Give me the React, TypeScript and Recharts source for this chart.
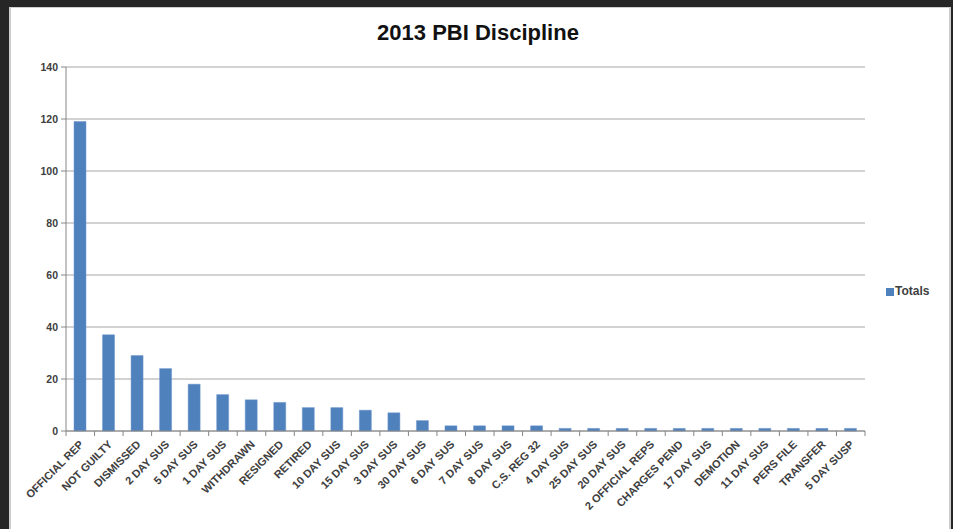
import React from "react";
import { BarChart, Bar, XAxis, YAxis, CartesianGrid, Legend } from "recharts";

// Outcome categories, in the order they are plotted
const categories: string[] = [
  "OFFICIAL REP",
  "NOT GUILTY",
  "DISMISSED",
  "2 DAY SUS",
  "5 DAY SUS",
  "1 DAY SUS",
  "WITHDRAWN",
  "RESIGNED",
  "RETIRED",
  "10 DAY SUS",
  "15 DAY SUS",
  "3 DAY SUS",
  "30 DAY SUS",
  "6 DAY SUS",
  "7 DAY SUS",
  "8 DAY SUS",
  "C.S. REG 32",
  "4 DAY SUS",
  "25 DAY SUS",
  "20 DAY SUS",
  "2 OFFICIAL REPS",
  "CHARGES PEND",
  "17 DAY SUS",
  "DEMOTION",
  "11 DAY SUS",
  "PERS FILE",
  "TRANSFER",
  "5 DAY SUSP",
];

// Number of cases for each category
const totals: number[] = [
  119, 37, 29, 24, 18, 14, 12, 11, 9, 9, 8, 7, 4, 2, 2, 2, 2, 1, 1, 1, 1, 1, 1, 1, 1, 1, 1, 1,
];

const yTicks: number[] = [0, 20, 40, 60, 80, 100, 120, 140];

const data = categories.map((name, i) => ({ name, Totals: totals[i] }));

const W = 953;
const H = 529;
const LEGEND_W = 60;
const MARGIN = { top: 67, right: 28, bottom: 8, left: 26 };
const Y_AXIS_W = 40;
const X_AXIS_H = 90;
const PLOT_LEFT = MARGIN.left + Y_AXIS_W;
const PLOT_RIGHT = W - MARGIN.right - LEGEND_W;
const PLOT_BOTTOM = H - MARGIN.bottom - X_AXIS_H;
const STEP = (PLOT_RIGHT - PLOT_LEFT) / categories.length;

const AXIS_COLOR = "#868686";
const LABEL_FONT = "'Liberation Sans', Arial, sans-serif";
const LABEL_COLOR = "#404040";

// Category label rotated 45° with tick marks between categories
const CategoryTick = (props: any) => {
  const { x, payload, index } = props;
  const half = STEP / 2;
  return (
    <g>
      <line x1={x - half} y1={PLOT_BOTTOM} x2={x - half} y2={PLOT_BOTTOM + 5} stroke={AXIS_COLOR} />
      {index === categories.length - 1 && (
        <line x1={x + half} y1={PLOT_BOTTOM} x2={x + half} y2={PLOT_BOTTOM + 5} stroke={AXIS_COLOR} />
      )}
      <text
        transform={`translate(${x + 2},${PLOT_BOTTOM + 12}) rotate(-45)`}
        textAnchor="end"
        fontSize={11}
        fontWeight="bold"
        fontFamily={LABEL_FONT}
        fill={LABEL_COLOR}
        dominantBaseline="middle"
      >
        {payload.value}
      </text>
    </g>
  );
};

export default function App() {
  return (
    <div
      style={{
        position: "fixed",
        left: 0,
        top: 0,
        width: W,
        height: H,
        background: "#262626",
        overflow: "hidden",
      }}
    >
      <div
        style={{
          position: "absolute",
          left: 9,
          top: 7,
          width: 938,
          height: 530,
          background: "#ffffff",
          borderLeft: "2px solid #cfcfcf",
          borderTop: "1px solid #cfcfcf",
          borderRight: "2px solid #cfcfcf",
        }}
      />
      <div
        style={{
          position: "absolute",
          left: 0,
          top: 20,
          width: 956,
          textAlign: "center",
          fontFamily: LABEL_FONT,
          fontWeight: "bold",
          fontSize: 22,
          color: "#111",
        }}
      >
        2013 PBI Discipline
      </div>
      <div style={{ position: "absolute", left: 0, top: 0 }}>
        <BarChart width={W} height={H} data={data} margin={MARGIN}>
          <CartesianGrid vertical={false} stroke="#a6a6a6" />
          <XAxis
            dataKey="name"
            interval={0}
            height={X_AXIS_H}
            stroke={AXIS_COLOR}
            tickLine={false}
            tick={<CategoryTick />}
          />
          <YAxis
            width={Y_AXIS_W}
            domain={[0, 140]}
            ticks={yTicks}
            stroke={AXIS_COLOR}
            tickSize={5}
            tickMargin={3}
            tick={{ fontSize: 10.5, fontWeight: "bold", fill: LABEL_COLOR, fontFamily: LABEL_FONT }}
          />
          <Legend
            layout="vertical"
            align="right"
            verticalAlign="middle"
            iconType="square"
            iconSize={8}
            wrapperStyle={{
              width: LEGEND_W,
              left: 886,
              top: 284,
              fontFamily: LABEL_FONT,
              fontSize: 12,
              fontWeight: "bold",
            }}
            formatter={(value: string) => (
              <span style={{ color: LABEL_COLOR, marginLeft: -3 }}>{value}</span>
            )}
          />
          <Bar dataKey="Totals" fill="#4f81bd" stroke="#6f97cc" strokeWidth={0.5} barSize={12} isAnimationActive={false} />
        </BarChart>
      </div>
    </div>
  );
}
